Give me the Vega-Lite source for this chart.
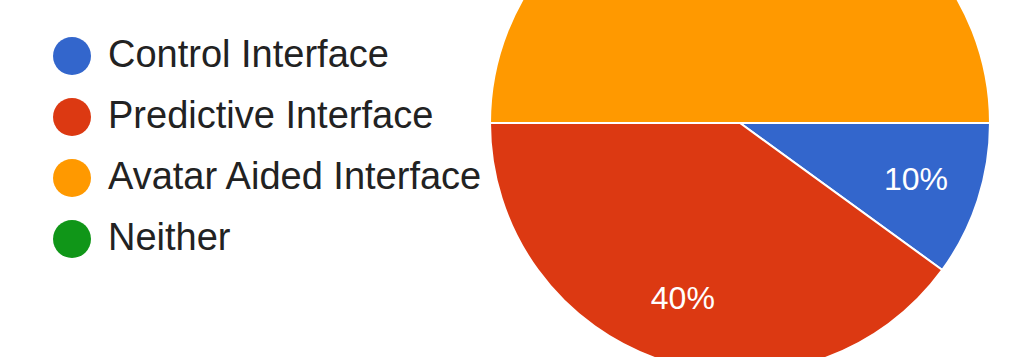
{
  "$schema": "https://vega.github.io/schema/vega-lite/v6.json",
  "width": 1480,
  "height": 246,
  "autosize": {"type": "none"},
  "padding": {"left": 0, "top": 0, "right": 0, "bottom": 111},
  "background": "white",
  "config": {"view": {"stroke": null}},
  "data": {
    "values": [
      {"idx": 1, "answer": "Control Interface", "share": 0.1},
      {"idx": 2, "answer": "Predictive Interface", "share": 0.4},
      {"idx": 3, "answer": "Avatar Aided Interface", "share": 0.5},
      {"idx": 4, "answer": "Neither", "share": 0}
    ]
  },
  "encoding": {
    "theta": {"field": "share", "type": "quantitative", "stack": true, "scale": {"range": [1.5708, 7.854]}},
    "order": {"field": "idx", "type": "quantitative"},
    "color": {
      "field": "answer",
      "type": "nominal",
      "scale": {
        "domain": ["Control Interface", "Predictive Interface", "Avatar Aided Interface", "Neither"],
        "range": ["#3366cc", "#dc3912", "#ff9900", "#109618"]
      },
      "legend": {
        "title": null,
        "orient": "none",
        "legendX": 53,
        "legendY": 37,
        "padding": 0,
        "symbolType": "circle",
        "symbolSize": 1444,
        "symbolStrokeWidth": 0,
        "symbolOpacity": 1,
        "labelFont": "Liberation Sans",
        "labelFontSize": 38,
        "labelColor": "#222222",
        "labelOffset": 17,
        "labelLimit": 600,
        "rowPadding": 23
      }
    }
  },
  "layer": [
    {
      "mark": {"type": "arc", "radius": 250, "stroke": "white", "strokeWidth": 2}
    },
    {
      "transform": [{"filter": "datum.share > 0"}],
      "mark": {"type": "text", "radius": 185, "fill": "white", "font": "Liberation Sans", "fontSize": 32, "baseline": "middle", "align": "center"},
      "encoding": {
        "text": {"field": "share", "type": "quantitative", "format": ".0%"},
        "color": {"value": "white"}
      }
    }
  ]
}
